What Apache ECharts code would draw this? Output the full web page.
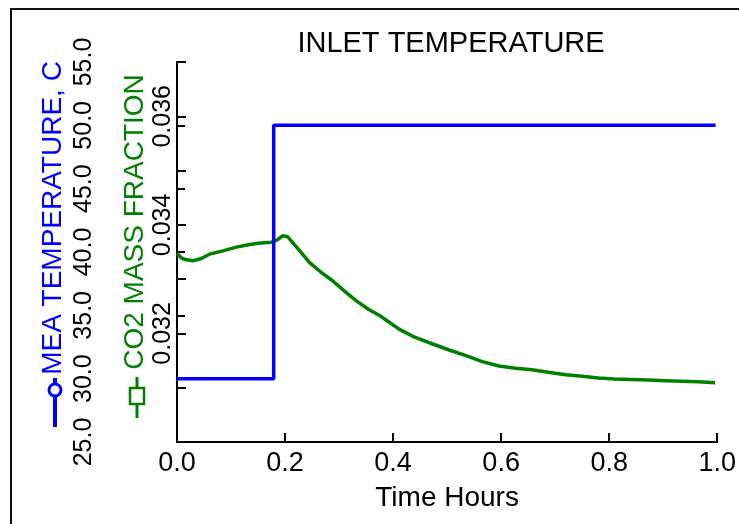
<!DOCTYPE html>
<html>
<head>
<meta charset="utf-8">
<script src="https://cdn.jsdelivr.net/npm/echarts@6/dist/echarts.min.js"></script>
<style>html,body{margin:0;padding:0;background:#fff}#c{width:739px;height:524px}</style>
</head>
<body>
<div id="c"></div>
<script>
var titleText = 'INLET TEMPERATURE';
var xName = 'Time Hours';
var tempName = 'MEA TEMPERATURE, C';
var co2Name = 'CO2 MASS FRACTION';
var xTicks = [0, 0.2, 0.4, 0.6, 0.8, 1.0];
var tempTicks = [25, 30, 35, 40, 45, 50, 55];
var co2LabelTicks = [0.032, 0.034, 0.036];

var tempTime = [0, 0.179, 0.179, 0.997];
var tempValue = [30, 30, 50, 50];

var co2Time = [0.000, 0.008, 0.015, 0.030, 0.045, 0.060, 0.085, 0.110, 0.130, 0.150, 0.175, 0.185, 0.196, 0.205, 0.225, 0.245, 0.265, 0.288, 0.310, 0.332, 0.355, 0.375, 0.411, 0.440, 0.472, 0.505, 0.535, 0.565, 0.596, 0.627, 0.657, 0.690, 0.720, 0.750, 0.780, 0.810, 0.841, 0.872, 0.904, 0.935, 0.965, 0.996];
var co2Value = [0.03348, 0.03339, 0.03336, 0.03334, 0.03338, 0.03346, 0.03352, 0.03359, 0.03363, 0.03366, 0.03368, 0.03372, 0.03380, 0.03378, 0.03355, 0.03331, 0.03314, 0.03297, 0.03278, 0.03260, 0.03244, 0.03233, 0.03208, 0.03193, 0.03181, 0.03169, 0.03159, 0.03148, 0.03140, 0.03136, 0.03133, 0.03128, 0.03124, 0.03121, 0.03118, 0.03116, 0.03115, 0.03114, 0.03113, 0.03112, 0.03111, 0.03109];

var FONT = 'Liberation Sans, Arial, sans-serif';
var BLUE = '#0000ff';
var GREEN = '#008000';

function pairs(xs, ys) { return xs.map(function (x, i) { return [x, ys[i]]; }); }

var chart = echarts.init(document.getElementById('c'), null, { renderer: 'canvas' });
chart.setOption({
  animation: false,
  backgroundColor: '#ffffff',
  textStyle: { fontFamily: FONT },
  title: {
    text: titleText, left: 446, top: 24, textAlign: 'center',
    textStyle: { fontFamily: FONT, fontSize: 29, fontWeight: 'normal', color: '#000' }
  },
  grid: { left: 177, right: 20, top: 62, bottom: 82, containLabel: false },
  xAxis: {
    type: 'value', min: xTicks[0], max: xTicks[xTicks.length - 1], interval: 0.2,
    name: xName, nameLocation: 'middle', nameGap: 42,
    nameTextStyle: { fontFamily: FONT, fontSize: 28, color: '#000' },
    axisLine: { lineStyle: { color: '#000', width: 2 } },
    axisTick: { inside: true, length: 9, lineStyle: { color: '#000', width: 2 } },
    axisLabel: { fontFamily: FONT, fontSize: 27, color: '#000', margin: 8,
      formatter: function (v) { return v.toFixed(1); } },
    splitLine: { show: false }
  },
  yAxis: [
    {
      type: 'value', position: 'left', offset: 80,
      min: tempTicks[0], max: tempTicks[tempTicks.length - 1], interval: 5,
      axisLine: { show: true, lineStyle: { color: '#000', width: 2 } },
      axisTick: { show: true, inside: true, length: 8, lineStyle: { color: '#000', width: 2 } },
      axisLabel: { fontFamily: FONT, fontSize: 25, color: '#000', rotate: 90, margin: 0,
        formatter: function (v) { return v.toFixed(1); } },
      splitLine: { show: false }
    },
    {
      type: 'value', position: 'left', offset: 0,
      min: 0.030, max: 0.037, interval: 0.001,
      axisLine: { show: true, lineStyle: { color: '#000', width: 2 } },
      axisTick: { show: true, inside: true, length: 9, lineStyle: { color: '#000', width: 2 } },
      axisLabel: { fontFamily: FONT, fontSize: 25, color: '#000', rotate: 90, margin: 1,
        formatter: function (v) {
          for (var i = 0; i < co2LabelTicks.length; i++) {
            if (Math.abs(v - co2LabelTicks[i]) < 1e-7) return co2LabelTicks[i].toFixed(3);
          }
          return '';
        } },
      splitLine: { show: false }
    }
  ],
  graphic: [
    { type: 'rect', shape: { x: 11, y: 9, width: 900, height: 700 }, style: { fill: 'none', stroke: '#111', lineWidth: 2 }, silent: true, z: 100 },
    { type: 'text', x: 53, y: 218, rotation: Math.PI / 2,
      style: { text: tempName, fill: BLUE, font: '28px ' + FONT, align: 'center', verticalAlign: 'middle' } },
    { type: 'text', x: 135, y: 222, rotation: Math.PI / 2,
      style: { text: co2Name, fill: GREEN, font: '28px ' + FONT, align: 'center', verticalAlign: 'middle' } },
    { type: 'line', shape: { x1: 55, y1: 378, x2: 55, y2: 427 }, style: { stroke: BLUE, lineWidth: 4 } },
    { type: 'circle', shape: { cx: 55, cy: 390, r: 6 }, style: { fill: '#fff', stroke: BLUE, lineWidth: 3 } },
    { type: 'line', shape: { x1: 137, y1: 377, x2: 137, y2: 418 }, style: { stroke: GREEN, lineWidth: 3 } },
    { type: 'rect', shape: { x: 130, y: 388, width: 14, height: 16 }, style: { fill: '#fff', stroke: GREEN, lineWidth: 2.5 } }
  ],
  series: [
    {
      type: 'line', yAxisIndex: 1, data: pairs(co2Time, co2Value), showSymbol: false,
      lineStyle: { color: GREEN, width: 3.5 }, itemStyle: { color: GREEN }, z: 2
    },
    {
      type: 'line', yAxisIndex: 0, data: pairs(tempTime, tempValue), showSymbol: false,
      lineStyle: { color: BLUE, width: 3.5 }, itemStyle: { color: BLUE }, z: 3
    }
  ]
});
</script>
</body>
</html>
